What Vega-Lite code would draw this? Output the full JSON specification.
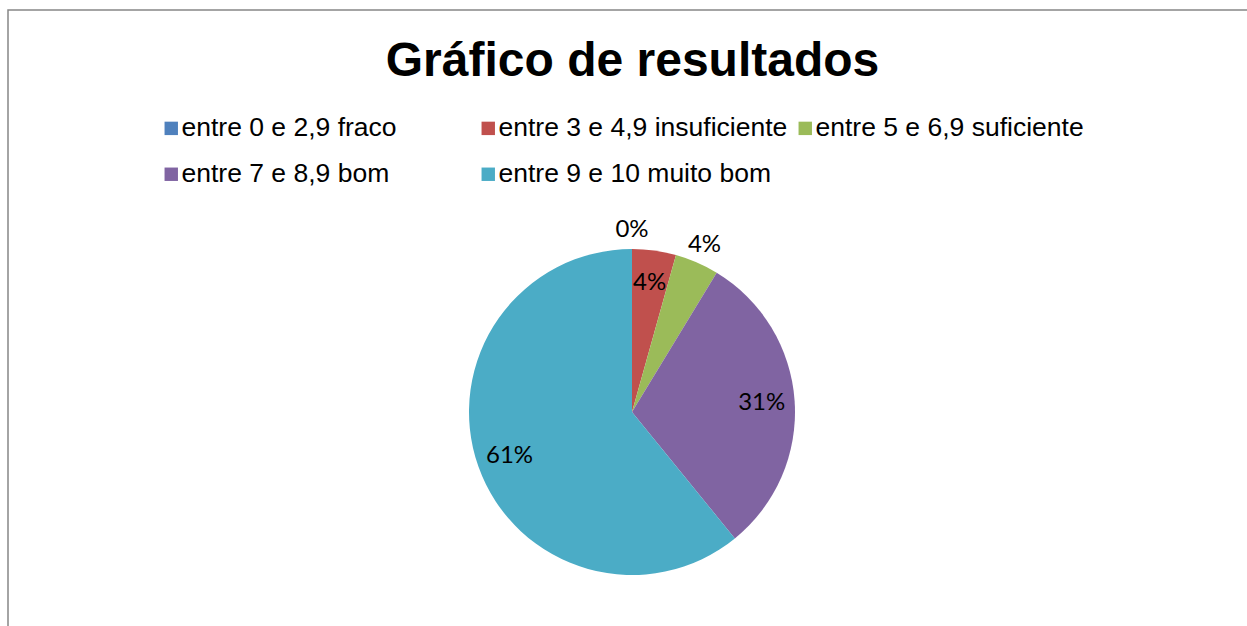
{
  "$schema": "https://vega.github.io/schema/vega-lite/v6.json",
  "width": 1242,
  "height": 619,
  "autosize": {"type": "none"},
  "padding": {"left": 8, "top": 10, "right": 0, "bottom": 0},
  "background": "white",
  "view": {"stroke": "#878787", "strokeWidth": 1.5, "fill": "white"},
  "title": {
    "text": "Gráfico de resultados",
    "orient": "top",
    "anchor": "middle",
    "frame": "group",
    "offset": -114,
    "baseline": "alphabetic",
    "dx": 3.5,
    "font": "Liberation Sans",
    "fontSize": 48,
    "fontWeight": "bold",
    "color": "#000000"
  },
  "data": {
    "values": [
      {"faixa": "entre 0 e 2,9 fraco", "alunos": 0, "percentual": "0%"},
      {"faixa": "entre 3 e 4,9 insuficiente", "alunos": 1, "percentual": "4%"},
      {"faixa": "entre 5 e 6,9 suficiente", "alunos": 1, "percentual": "4%"},
      {"faixa": "entre 7 e 8,9 bom", "alunos": 7, "percentual": "31%"},
      {"faixa": "entre 9 e 10 muito bom", "alunos": 14, "percentual": "61%"}
    ]
  },
  "encoding": {
    "theta": {"field": "alunos", "type": "quantitative", "stack": true},
    "order": {"field": "faixa", "type": "ordinal", "sort": "ascending"}
  },
  "layer": [
    {
      "mark": {"type": "arc", "outerRadius": 163, "xOffset": 3, "yOffset": 92.5},
      "encoding": {
        "color": {
          "field": "faixa",
          "type": "nominal",
          "scale": {
            "domain": ["entre 0 e 2,9 fraco", "entre 3 e 4,9 insuficiente", "entre 5 e 6,9 suficiente", "entre 7 e 8,9 bom", "entre 9 e 10 muito bom"],
            "range": ["#4F81BD", "#C0504D", "#9BBB59", "#8064A2", "#4BACC6"]
          },
          "legend": {
            "title": null,
            "orient": "none",
            "legendX": 150,
            "legendY": 105,
            "direction": "horizontal",
            "columns": 3,
            "gridAlign": "all",
            "columnPadding": 4,
            "rowPadding": 19,
            "padding": 0,
            "symbolType": "square",
            "symbolSize": 180,
            "symbolStrokeWidth": 0,
            "labelOffset": -3,
            "labelFont": "Liberation Sans",
            "labelFontSize": 26.5,
            "labelColor": "#000000",
            "labelLimit": 400
          }
        }
      }
    },
    {
      "mark": {"type": "text", "radius": 130, "xOffset": 3, "yOffset": 92.5, "font": "Lato", "fontSize": 24, "color": "#000000", "baseline": "middle", "align": "center"},
      "encoding": {
        "detail": {"field": "faixa", "type": "nominal"},
        "text": {
          "condition": {"test": "indexof(['entre 3 e 4,9 insuficiente', 'entre 7 e 8,9 bom', 'entre 9 e 10 muito bom'], datum.faixa) >= 0", "field": "percentual"},
          "value": ""
        }
      }
    },
    {
      "mark": {"type": "text", "radius": 182, "xOffset": 3, "yOffset": 92.5, "font": "Lato", "fontSize": 24, "color": "#000000", "baseline": "middle", "align": "center"},
      "encoding": {
        "detail": {"field": "faixa", "type": "nominal"},
        "text": {
          "condition": {"test": "indexof(['entre 0 e 2,9 fraco', 'entre 5 e 6,9 suficiente'], datum.faixa) >= 0", "field": "percentual"},
          "value": ""
        }
      }
    }
  ]
}
